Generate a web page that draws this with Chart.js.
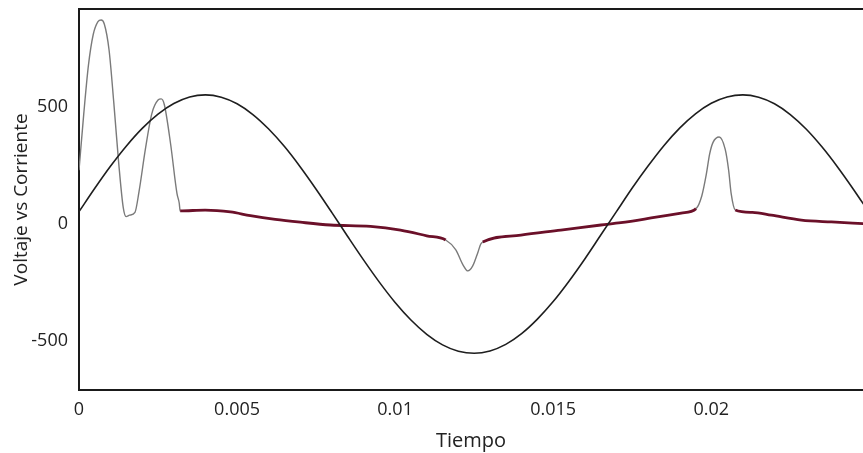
<!DOCTYPE html>
<html>
<head>
<meta charset="utf-8">
<script src="https://cdn.jsdelivr.net/npm/chart.js@4/dist/chart.umd.min.js"></script>
<style>
  html, body { margin: 0; padding: 0; background: #fff; }
  canvas { display: block; }
</style>
</head>
<body>
<canvas id="grafico" width="863" height="453"></canvas>
<script>
// Voltaje (senoidal)
const tiempoV = [0, 0.0005, 0.001, 0.0015, 0.002, 0.0025, 0.003, 0.0035, 0.004, 0.0045,
  0.005, 0.0055, 0.006, 0.0065, 0.007, 0.0075, 0.008, 0.0085, 0.009, 0.0095,
  0.01, 0.0105, 0.011, 0.0115, 0.012, 0.0125, 0.013, 0.0135, 0.014, 0.0145,
  0.015, 0.0155, 0.016, 0.0165, 0.017, 0.0175, 0.018, 0.0185, 0.019, 0.0195,
  0.02, 0.0205, 0.021, 0.0215, 0.022, 0.0225, 0.023, 0.0235, 0.024, 0.0245, 0.025];
const voltaje = [53, 153, 248, 334, 409, 470, 515, 543, 552, 542,
  514, 468, 406, 331, 244, 149, 49, -53, -153, -248,
  -335, -410, -471, -516, -543, -552, -542, -514, -468, -406,
  -331, -244, -149, -48, 53, 154, 248, 335, 410, 471,
  516, 543, 552, 542, 514, 468, 406, 330, 243, 148, 48];

// Corriente
const tiempoI = [0, 0.00015, 0.0003, 0.00045, 0.0006, 0.0007, 0.0008, 0.00095, 0.0011, 0.00125,
  0.0014, 0.00149, 0.0016, 0.00177, 0.0019, 0.0021, 0.0023, 0.0025, 0.0026, 0.0027,
  0.0029, 0.0031, 0.00317, 0.0032, 0.00399, 0.00479, 0.00542, 0.00621, 0.007, 0.00795,
  0.00922, 0.01017, 0.011, 0.0116, 0.01192, 0.01215, 0.0123, 0.01245, 0.01262, 0.01271,
  0.01277, 0.01398, 0.01524, 0.01651, 0.01714, 0.0181, 0.01905, 0.01952, 0.0197, 0.01984,
  0.01995, 0.02006, 0.02025, 0.02044, 0.02055, 0.02063, 0.02076, 0.0213, 0.0219, 0.02285,
  0.0238, 0.02481];
const corriente = [230, 470, 680, 810, 865, 872, 855, 745, 520, 270,
  70, 32, 38, 50, 140, 320, 470, 530, 535, 510,
  340, 130, 90, 56, 60, 52, 36, 20, 8, -4,
  -10, -26, -50, -68, -110, -175, -200, -180, -120, -85,
  -77, -47, -26, -4, 6, 26, 47, 66, 120, 210,
  300, 350, 372, 320, 230, 130, 60, 50, 38, 17,
  9, 2];

const xTicks = [0, 0.005, 0.01, 0.015, 0.02];
const xTickLabels = ['0', '0.005', '0.01', '0.015', '0.02'];
const yTicks = [-500, 0, 500];
const yTickLabels = ['-500', '0', '500'];

const puntosV = tiempoV.map((t, i) => ({ x: t, y: voltaje[i] }));
const puntosI = tiempoI.map((t, i) => ({ x: t, y: corriente[i] }));

// marco superior del area del grafico
const marco = {
  id: 'marco',
  afterDraw(chart) {
    const a = chart.chartArea, c = chart.ctx;
    c.save();
    c.strokeStyle = '#1a1a1a';
    c.lineWidth = 2;
    c.beginPath();
    c.moveTo(a.left, a.top);
    c.lineTo(a.right, a.top);
    c.stroke();
    c.restore();
  }
};

// tramos de los picos en gris fino, tramos planos en rojo oscuro grueso
const enPico = ctx => {
  const p0 = ctx.p0.parsed, p1 = ctx.p1.parsed;
  const pendiente = Math.abs((p1.y - p0.y) / (p1.x - p0.x));
  return pendiente > 50000 || Math.abs(p0.y + p1.y) / 2 > 100;
};

new Chart(document.getElementById('grafico'), {
  type: 'line',
  data: {
    datasets: [
      {
        label: 'Voltaje',
        data: puntosV,
        borderColor: '#1e1e1e',
        borderWidth: 1.6,
        pointRadius: 0,
        cubicInterpolationMode: 'monotone'
      },
      {
        label: 'Corriente',
        data: puntosI,
        borderColor: '#6b1029',
        borderWidth: 2.8,
        pointRadius: 0,
        cubicInterpolationMode: 'monotone',
        segment: {
          borderColor: ctx => enPico(ctx) ? '#7a7a7a' : undefined,
          borderWidth: ctx => enPico(ctx) ? 1.4 : undefined
        }
      }
    ]
  },
  options: {
    responsive: false,
    animation: false,
    layout: { padding: { top: 9, right: 0, left: 0, bottom: 0 } },
    plugins: { legend: { display: false }, tooltip: { enabled: false } },
    scales: {
      x: {
        type: 'linear',
        min: 0,
        max: 0.0248,
        grid: { display: false },
        border: { display: true, color: '#1a1a1a', width: 2 },
        afterBuildTicks: s => { s.ticks = xTicks.map(v => ({ value: v })); },
        afterFit: s => { s.height = 63; s.paddingLeft = 0; s.paddingRight = 0; },
        ticks: {
          color: '#222',
          padding: 1,
          maxRotation: 0,
          font: { family: 'Open Sans', size: 18 },
          callback: (v) => xTickLabels[xTicks.indexOf(v)]
        },
        title: {
          display: true,
          text: 'Tiempo',
          color: '#222',
          font: { family: 'Open Sans', size: 20 },
          padding: { top: 4, bottom: 0 }
        }
      },
      y: {
        min: -709,
        max: 919,
        grid: { display: false },
        border: { display: true, color: '#1a1a1a', width: 2 },
        afterBuildTicks: s => { s.ticks = yTicks.map(v => ({ value: v })); },
        afterFit: s => { s.width = 79; s.paddingTop = 0; s.paddingBottom = 0; },
        ticks: {
          color: '#222',
          padding: 3,
          font: { family: 'Open Sans', size: 18 },
          callback: (v) => yTickLabels[yTicks.indexOf(v)]
        },
        title: {
          display: true,
          text: 'Voltaje vs Corriente',
          color: '#222',
          font: { family: 'Open Sans', size: 19 },
          padding: { top: 10, bottom: 0 }
        }
      }
    }
  },
  plugins: [marco]
});
</script>
</body>
</html>
